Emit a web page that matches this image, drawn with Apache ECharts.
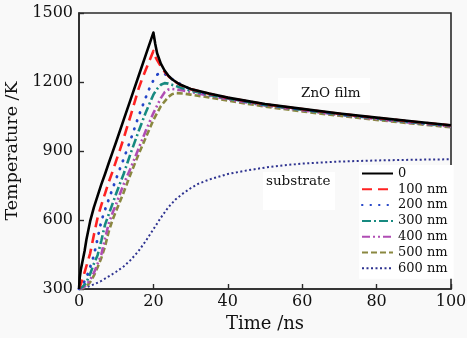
<!DOCTYPE html>
<html>
<head>
<meta charset="utf-8">
<script src="https://cdn.jsdelivr.net/npm/echarts@6/dist/echarts.min.js"></script>
<style>
  html, body { margin: 0; padding: 0; background: #f9f9f9; }
  #chart { width: 467px; height: 338px; }
</style>
</head>
<body>
<div id="chart"></div>
<script>
// Film surface temperature vs time for several film thicknesses, plus substrate
const seriesNames = ['0', '100 nm', '200 nm', '300 nm', '400 nm', '500 nm', '600 nm'];

const t0   = [0,0.2,0.5,1,1.5,2,3,4,5,6,7,8,9,10,12,14,16,18,20,20.5,21,22,23,24,25,27,30,35,40,45,50,60,70,80,90,100];
const T0   = [300,350,385,425,465,515,595,655,705,755,800,848,894,940,1035,1130,1225,1320,1415,1365,1325,1280,1250,1228,1212,1190,1170,1150,1132,1118,1104,1083,1063,1045,1028,1012];

const t100 = [0,1,2,3,4,5,6,7,8,9,10,11,12,14,16,17,18,19,20,20.5,21,22,23,24,25,27,30,35,40,45,50,60,70,80,90,100];
const T100 = [300,345,400,455,535,610,665,715,765,810,858,905,955,1060,1170,1215,1255,1295,1335,1310,1295,1268,1245,1226,1211,1189,1169,1149,1131,1117,1103,1082,1062,1044,1027,1011];

const t200 = [0,1,2,3,4,5,6,7,8,9,10,11,12,13,14,16,18,19,20,21,22,23,24,26,28,30,35,40,45,50,60,70,80,90,100];
const T200 = [300,318,350,395,445,520,595,645,690,735,780,823,865,910,955,1050,1135,1175,1207,1232,1240,1236,1224,1202,1184,1168,1147,1130,1116,1102,1081,1061,1043,1026,1010];

const t300 = [0,1,2,3,4,5,6,7,8,9,10,11,12,13,14,16,18,20,21,22,23,24,26,28,30,35,40,45,50,60,70,80,90,100];
const T300 = [300,310,330,365,410,447,510,580,625,670,715,758,800,848,895,985,1070,1145,1170,1188,1195,1193,1183,1172,1163,1144,1128,1114,1100,1079,1059,1041,1024,1008];

const t400 = [0,1,2,3,4,5,6,7,8,9,10,12,14,16,18,20,22,23,24,25,26,28,30,35,40,45,50,60,70,80,90,100];
const T400 = [300,305,318,340,370,410,450,520,585,630,670,755,830,910,990,1065,1130,1155,1167,1170,1168,1163,1157,1140,1125,1111,1098,1077,1057,1039,1022,1006];

const t500 = [0,1,2,3,4,5,6,7,8,9,10,12,14,16,18,20,22,24,25,26,28,30,35,40,45,50,60,70,80,90,100];
const T500 = [300,303,312,330,358,395,435,485,550,600,640,720,805,885,960,1035,1095,1135,1147,1152,1150,1145,1133,1119,1106,1093,1072,1053,1035,1019,1003];

const tSub = [0,2,4,6,8,10,12,14,16,18,20,22,24,26,28,30,32,35,40,45,50,55,60,70,80,90,100];
const TSub = [300,308,320,335,355,375,398,428,465,510,560,610,655,690,716,738,757,776,800,815,828,838,845,854,859,862,864];

const xTicks = [0, 20, 40, 60, 80, 100];
const yTicks = [300, 600, 900, 1200, 1500];

const annotations = ['ZnO film', 'substrate'];

const pairs = (ts, vs) => ts.map((t, i) => [t, vs[i]]);

const styles = [
  { color: '#000000', width: 2.6, type: 'solid' },
  { color: '#ff2222', width: 2.6, type: [10, 6] },
  { color: '#2445c8', width: 2.8, type: [0.5, 8], cap: 'round' },
  { color: '#178a80', width: 2.6, type: [9, 3, 2, 3] },
  { color: '#b04db4', width: 2.6, type: [8, 3, 2, 3, 2, 3] },
  { color: '#8a8840', width: 2.6, type: [6, 3] },
  { color: '#2e3390', width: 2.0, type: [2, 2.5] }
];

const dataSets = [
  pairs(t0, T0), pairs(t100, T100), pairs(t200, T200), pairs(t300, T300),
  pairs(t400, T400), pairs(t500, T500), pairs(tSub, TSub)
];

const font = '"DejaVu Serif", "Liberation Serif", serif';

const chart = echarts.init(document.getElementById('chart'), null, { renderer: 'canvas' });

chart.setOption({
  backgroundColor: '#f9f9f9',
  animation: false,
  grid: {
    left: 79, right: 16, top: 13, bottom: 49,
    containLabel: false, outerBoundsMode: 'none',
    show: true, borderColor: '#2a2a2a', borderWidth: 1.6, backgroundColor: 'transparent'
  },
  xAxis: {
    type: 'value', min: xTicks[0], max: xTicks[xTicks.length - 1], interval: 20,
    name: 'Time /ns', nameLocation: 'middle', nameGap: 24,
    nameTextStyle: { fontFamily: font, fontSize: 18, color: '#111' },
    axisLine: { lineStyle: { color: '#2a2a2a', width: 1.6 } },
    axisTick: { inside: true, length: 5, lineStyle: { color: '#2a2a2a', width: 1.4 } },
    axisLabel: { fontFamily: font, fontSize: 16, color: '#111', margin: 5, formatter: v => String(v) },
    splitLine: { show: false }
  },
  yAxis: {
    type: 'value', min: yTicks[0], max: yTicks[yTicks.length - 1], interval: 300,
    name: 'Temperature /K', nameLocation: 'middle', nameGap: 51, nameRotate: 90,
    nameTextStyle: { fontFamily: font, fontSize: 17.5, color: '#111' },
    axisLine: { lineStyle: { color: '#2a2a2a', width: 1.6 } },
    axisTick: { inside: true, length: 5, lineStyle: { color: '#2a2a2a', width: 1.4 } },
    axisLabel: { fontFamily: font, fontSize: 16, color: '#111', margin: 6, formatter: v => String(v) },
    splitLine: { show: false }
  },
  legend: {
    orient: 'vertical', left: 359, top: 165,
    itemWidth: 31, itemHeight: 14, itemGap: 2.8,
    padding: [2, 6, 4, 2],
    backgroundColor: '#ffffff',
    textStyle: { fontFamily: font, fontSize: 13, color: '#111' },
    itemStyle: { opacity: 0 },
    data: seriesNames
  },
  series: seriesNames.map((n, i) => ({
    name: n,
    type: 'line',
    data: dataSets[i],
    showSymbol: false,
    symbol: 'none',
    smooth: false,
    z: 10 - i,
    lineStyle: {
      color: styles[i].color, width: styles[i].width,
      type: styles[i].type, cap: styles[i].cap || 'butt', join: 'round'
    },
    itemStyle: { color: styles[i].color }
  })),
  graphic: [
    { type: 'rect', left: 278, top: 78, shape: { width: 92, height: 25 }, style: { fill: '#ffffff' }, z: 5 },
    { type: 'text', left: 301, top: 86, style: { text: annotations[0], font: '13.5px ' + font, fill: '#111' }, z: 6 },
    { type: 'rect', left: 263, top: 172, shape: { width: 72, height: 38 }, style: { fill: '#ffffff' }, z: 5 },
    { type: 'text', left: 266, top: 174, style: { text: annotations[1], font: '13.5px ' + font, fill: '#111' }, z: 6 }
  ]
});
</script>
</body>
</html>
